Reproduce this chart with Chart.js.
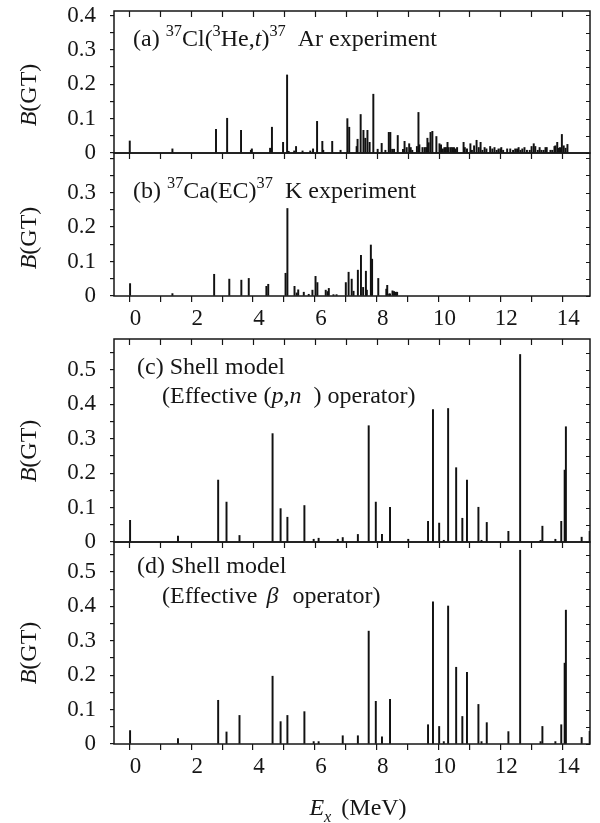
<!DOCTYPE html>
<html>
<head>
  <meta charset="utf-8" />
  <title>B(GT) distributions</title>
  <script src="https://cdn.jsdelivr.net/npm/chart.js"></script>
  <style>
    body { margin: 0; background: #fff; }
    canvas { position: absolute; left: 0; }
  </style>
</head>
<body>
  <canvas id="chartA" width="600" height="160" style="top: 0px;"></canvas>
  <canvas id="chartB" width="600" height="200" style="top: 146px;"></canvas>
  <canvas id="chartC" width="600" height="217" style="top: 332px;"></canvas>
  <canvas id="chartD" width="600" height="288" style="top: 535px;"></canvas>

  <script>
    // Ex (MeV) axis
    const xTickValues = [0, 1, 2, 3, 4, 5, 6, 7, 8, 9, 10, 11, 12, 13, 14];
    const xTickLabels = [0, 2, 4, 6, 8, 10, 12, 14];

    // B(GT) axes
    const yTicksSmall = [0, 0.05, 0.1, 0.15, 0.2, 0.25, 0.3, 0.35, 0.4];
    const yLabelsA = [0, 0.1, 0.2, 0.3, 0.4];
    const yLabelsB = [0, 0.1, 0.2, 0.3];
    const yTicksLarge = [0, 0.05, 0.1, 0.15, 0.2, 0.25, 0.3, 0.35, 0.4, 0.45, 0.5, 0.55];
    const yLabelsLarge = [0, 0.1, 0.2, 0.3, 0.4, 0.5];

    // (a) 37Cl(3He,t)37Ar experiment
    const energyA = [0.01, 1.39, 2.80, 3.16, 3.61, 3.93, 3.96, 4.55, 4.61, 4.97, 5.10, 5.15, 5.33, 5.39, 5.60,
      5.85, 5.94, 6.07, 6.24, 6.27, 6.56, 6.83, 7.05, 7.11, 7.35, 7.38, 7.48, 7.57, 7.63, 7.70, 7.77, 7.89,
      8.03, 8.16, 8.28, 8.39, 8.44, 8.50, 8.56, 8.68, 8.85, 8.90, 8.97, 9.05, 9.10, 9.15, 9.30, 9.35, 9.38,
      9.48, 9.55, 9.60, 9.64, 9.68, 9.74, 9.80, 9.93, 10.03, 10.08, 10.14, 10.19, 10.24, 10.29, 10.33, 10.40,
      10.45, 10.50, 10.55, 10.60, 10.81, 10.85, 10.92, 11.03, 11.08, 11.15, 11.23, 11.30, 11.36, 11.42, 11.49,
      11.55, 11.67, 11.74, 11.81, 11.88, 11.94, 12.00, 12.03, 12.09, 12.22, 12.32, 12.41, 12.48, 12.54, 12.59,
      12.65, 12.71, 12.78, 12.86, 12.95, 13.01, 13.08, 13.13, 13.21, 13.27, 13.33, 13.40, 13.46, 13.50, 13.62,
      13.68, 13.75, 13.78, 13.84, 13.89, 13.93, 13.99, 14.05, 14.11, 14.17];
    const strengthA = [0.035, 0.012, 0.069, 0.101, 0.066, 0.008, 0.012, 0.014, 0.075, 0.031, 0.227, 0.005, 0.006, 0.019, 0.006,
      0.006, 0.012, 0.092, 0.034, 0.008, 0.034, 0.008, 0.100, 0.075, 0.019, 0.040, 0.112, 0.066, 0.043, 0.066, 0.031, 0.171,
      0.011, 0.028, 0.008, 0.060, 0.060, 0.011, 0.011, 0.051, 0.011, 0.034, 0.016, 0.027, 0.016, 0.008, 0.019, 0.118, 0.024,
      0.016, 0.016, 0.016, 0.043, 0.030, 0.060, 0.063, 0.048, 0.027, 0.024, 0.012, 0.016, 0.016, 0.031, 0.016, 0.016,
      0.016, 0.016, 0.012, 0.016, 0.031, 0.016, 0.012, 0.027, 0.008, 0.021, 0.037, 0.016, 0.031, 0.008, 0.016,
      0.012, 0.019, 0.012, 0.016, 0.008, 0.012, 0.012, 0.016, 0.008, 0.012, 0.012, 0.008, 0.012, 0.012, 0.016,
      0.008, 0.012, 0.016, 0.008, 0.008, 0.019, 0.027, 0.019, 0.008, 0.016, 0.008, 0.008, 0.016, 0.016, 0.008,
      0.008, 0.019, 0.021, 0.031, 0.014, 0.016, 0.054, 0.021, 0.014, 0.025];

    // (b) 37Ca(EC)37K experiment
    const energyB = [0.02, 1.39, 2.74, 3.23, 3.62, 3.86, 4.43, 4.49, 5.05, 5.11, 5.34, 5.41, 5.46, 5.64, 5.80,
      5.92, 6.02, 6.08, 6.35, 6.41, 6.45, 6.60, 6.70, 7.00, 7.09, 7.19, 7.25, 7.39, 7.49, 7.56, 7.65, 7.68,
      7.81, 7.85, 8.05, 8.31, 8.34, 8.40, 8.43, 8.51, 8.56, 8.62, 8.66];
    const strengthB = [0.036, 0.007, 0.063, 0.049, 0.046, 0.051, 0.028, 0.034, 0.066, 0.254, 0.028, 0.009, 0.018, 0.011, 0.005,
      0.017, 0.057, 0.039, 0.017, 0.013, 0.022, 0.004, 0.004, 0.039, 0.069, 0.049, 0.014, 0.075, 0.118, 0.025, 0.072, 0.017,
      0.148, 0.107, 0.051, 0.020, 0.031, 0.006, 0.006, 0.015, 0.013, 0.011, 0.011];

    // (c) shell model, effective (p,n) operator
    const energyC = [0.02, 1.57, 2.87, 3.14, 3.56, 4.63, 4.89, 5.11, 5.66, 5.96, 6.12, 6.74, 6.90, 7.39, 7.74,
      7.97, 8.17, 8.43, 9.02, 9.66, 9.82, 10.02, 10.17, 10.31, 10.57, 10.77, 10.92, 11.29, 11.39, 11.56,
      12.26, 12.64, 13.30, 13.36, 13.78, 13.97, 14.08, 14.12, 14.63, 14.89];
    const strengthC = [0.063, 0.017, 0.180, 0.116, 0.019, 0.315, 0.097, 0.072, 0.106, 0.008, 0.011, 0.008, 0.013, 0.022, 0.338,
      0.116, 0.022, 0.101, 0.008, 0.060, 0.385, 0.055, 0.005, 0.388, 0.216, 0.069, 0.180, 0.101, 0.005, 0.057,
      0.031, 0.545, 0.005, 0.046, 0.008, 0.060, 0.209, 0.335, 0.014, 0.031];

    // (d) shell model, effective beta operator
    const energyD = [0.02, 1.57, 2.87, 3.14, 3.56, 4.63, 4.89, 5.11, 5.66, 5.96, 6.12, 6.90, 7.39, 7.74,
      7.97, 8.17, 8.43, 9.66, 9.82, 10.02, 10.17, 10.31, 10.57, 10.77, 10.92, 11.29, 11.39, 11.56,
      12.26, 12.64, 13.30, 13.36, 13.78, 13.97, 14.08, 14.12, 14.63, 14.89];
    const strengthD = [0.039, 0.016, 0.127, 0.035, 0.083, 0.197, 0.065, 0.083, 0.094, 0.007, 0.007, 0.024, 0.024, 0.328,
      0.124, 0.021, 0.130, 0.056, 0.413, 0.051, 0.007, 0.401, 0.223, 0.080, 0.208, 0.115, 0.007, 0.062,
      0.036, 0.563, 0.007, 0.051, 0.007, 0.056, 0.235, 0.389, 0.019, 0.037];

    const FONT = '"Liberation Serif", "Times New Roman", serif';
    const INK = '#161616';

    // text made of runs: plain, italic, superscript, subscript
    function runFont(r, size) {
      const fs = (r.sup || r.sub) ? size * 0.68 : size;
      return (r.it ? 'italic ' : '') + fs + 'px ' + FONT;
    }
    function runsWidth(ctx, runs, size) {
      let w = 0;
      runs.forEach(r => { ctx.font = runFont(r, size); w += (r.dx || 0) + ctx.measureText(r.t).width; });
      return w;
    }
    function drawRuns(ctx, x, y, runs, size) {
      runs.forEach(r => {
        ctx.font = runFont(r, size);
        x += r.dx || 0;
        const dy = r.sup ? -size * 0.4 : (r.sub ? size * 0.28 : 0);
        ctx.fillText(r.t, x, y + dy);
        x += ctx.measureText(r.t).width;
      });
    }

    const yTitle = [{ t: 'B', it: true }, { t: '(GT)' }];

    function makePanel(id, energies, strengths, p) {
      const points = energies.map((e, i) => ({ x: e, y: strengths[i] }));

      const decor = {
        id: 'decor',
        afterDraw(chart) {
          const { ctx, chartArea: a } = chart;
          const x = chart.scales.x, y = chart.scales.y;
          ctx.save();
          // frame
          ctx.strokeStyle = INK;
          ctx.lineWidth = 1.5;
          ctx.strokeRect(a.left, a.top, a.right - a.left, a.bottom - a.top);
          // mirrored ticks, pointing inwards
          ctx.lineWidth = 1.2;
          ctx.beginPath();
          xTickValues.forEach(v => {
            const px = Math.round(x.getPixelForValue(v)) + 0.5;
            ctx.moveTo(px, a.top);
            ctx.lineTo(px, a.top + 6);
          });
          p.yTicks.forEach(v => {
            const py = Math.round(y.getPixelForValue(v)) + 0.5;
            ctx.moveTo(a.right, py);
            ctx.lineTo(a.right - 4, py);
          });
          ctx.stroke();

          ctx.fillStyle = INK;
          ctx.textBaseline = 'alphabetic';
          p.labels.forEach(l => drawRuns(ctx, l.x, l.y, l.runs, 24));

          // y title
          ctx.save();
          ctx.translate(30, p.titleY);
          ctx.rotate(-Math.PI / 2);
          ctx.textBaseline = 'middle';
          drawRuns(ctx, -runsWidth(ctx, yTitle, 24) / 2, 0, yTitle, 24);
          ctx.restore();

          // x title
          if (p.xTitle) {
            const w = runsWidth(ctx, p.xTitle.runs, 24);
            drawRuns(ctx, p.xTitle.cx - w / 2, p.xTitle.y, p.xTitle.runs, 24);
          }
          ctx.restore();
        }
      };

      return new Chart(document.getElementById(id), {
        type: 'bar',
        data: {
          datasets: [{
            data: points,
            backgroundColor: '#111',
            borderWidth: 0,
            barThickness: 1.3
          }]
        },
        options: {
          responsive: false,
          animation: false,
          layout: { padding: { left: 0, right: 10, top: p.padTop, bottom: p.padBottom } },
          plugins: { legend: { display: false }, tooltip: { enabled: false } },
          scales: {
            x: {
              type: 'linear',
              offset: false,
              min: -0.5,
              max: 14.9,
              display: p.showX,
              grid: { offset: false, drawOnChartArea: false, drawTicks: true, tickLength: 6, color: INK, lineWidth: 1.2 },
              border: { display: false },
              afterBuildTicks: s => { s.ticks = xTickValues.map(v => ({ value: v })); },
              afterFit: s => { s.height = p.xHeight || 0; s.paddingLeft = 0; s.paddingRight = 0; },
              ticks: {
                autoSkip: false,
                maxRotation: 0,
                padding: 3,
                labelOffset: 6,
                color: INK,
                font: { family: FONT, size: 23 },
                callback: v => xTickLabels.includes(v) ? String(v) : ''
              }
            },
            y: {
              min: 0,
              max: p.yMax,
              grid: { drawOnChartArea: false, drawTicks: true, tickLength: 4, color: INK, lineWidth: 1.2 },
              border: { display: false },
              afterBuildTicks: s => { s.ticks = p.yTicks.map(v => ({ value: v })); },
              afterFit: s => { s.width = 114; s.paddingTop = 0; s.paddingBottom = 0; },
              ticks: {
                autoSkip: false,
                padding: 14,
                color: INK,
                font: { family: FONT, size: 23 },
                callback: v => p.yLabels.includes(v) ? String(v) : ''
              }
            }
          }
        },
        plugins: [decor]
      });
    }

    makePanel('chartA', energyA, strengthA, {
      padTop: 11, padBottom: 7, showX: false, yMax: 0.413,
      yTicks: yTicksSmall, yLabels: yLabelsA, titleY: 95,
      labels: [{ x: 133, y: 46, runs: [{ t: '(a) ' }, { t: '37', sup: true }, { t: 'Cl(' }, { t: '3', sup: true },
        { t: 'He,' }, { t: 't', it: true }, { t: ')' }, { t: '37', sup: true }, { t: '  Ar experiment' }] }]
    });

    makePanel('chartB', energyB, strengthB, {
      padTop: 7, padBottom: 0, showX: true, xHeight: 50, yMax: 0.415,
      yTicks: yTicksSmall, yLabels: yLabelsB, titleY: 92,
      labels: [{ x: 133, y: 52, runs: [{ t: '(b) ' }, { t: '37', sup: true }, { t: 'Ca(EC)' }, { t: '37', sup: true },
        { t: '  K experiment' }] }]
    });

    makePanel('chartC', energyC, strengthC, {
      padTop: 7, padBottom: 7, showX: false, yMax: 0.59,
      yTicks: yTicksLarge, yLabels: yLabelsLarge, titleY: 119,
      labels: [
        { x: 137, y: 42, runs: [{ t: '(c) Shell model' }] },
        { x: 162, y: 71, runs: [{ t: '(Effective (' }, { t: 'p,n', it: true }, { t: '  ) operator)' }] }
      ]
    });

    makePanel('chartD', energyD, strengthD, {
      padTop: 7, padBottom: 0, showX: true, xHeight: 79, yMax: 0.587,
      yTicks: yTicksLarge, yLabels: yLabelsLarge, titleY: 118,
      labels: [
        { x: 137, y: 38, runs: [{ t: '(d) Shell model' }] },
        { x: 162, y: 68, runs: [{ t: '(Effective ' }, { t: 'β', it: true, dx: 3 }, { t: '  operator)', dx: 2 }] }
      ],
      xTitle: { cx: 358, y: 280, runs: [{ t: 'E', it: true }, { t: 'x', it: true, sub: true }, { t: ' (MeV)', dx: 4 }] }
    });
  </script>
</body>
</html>
